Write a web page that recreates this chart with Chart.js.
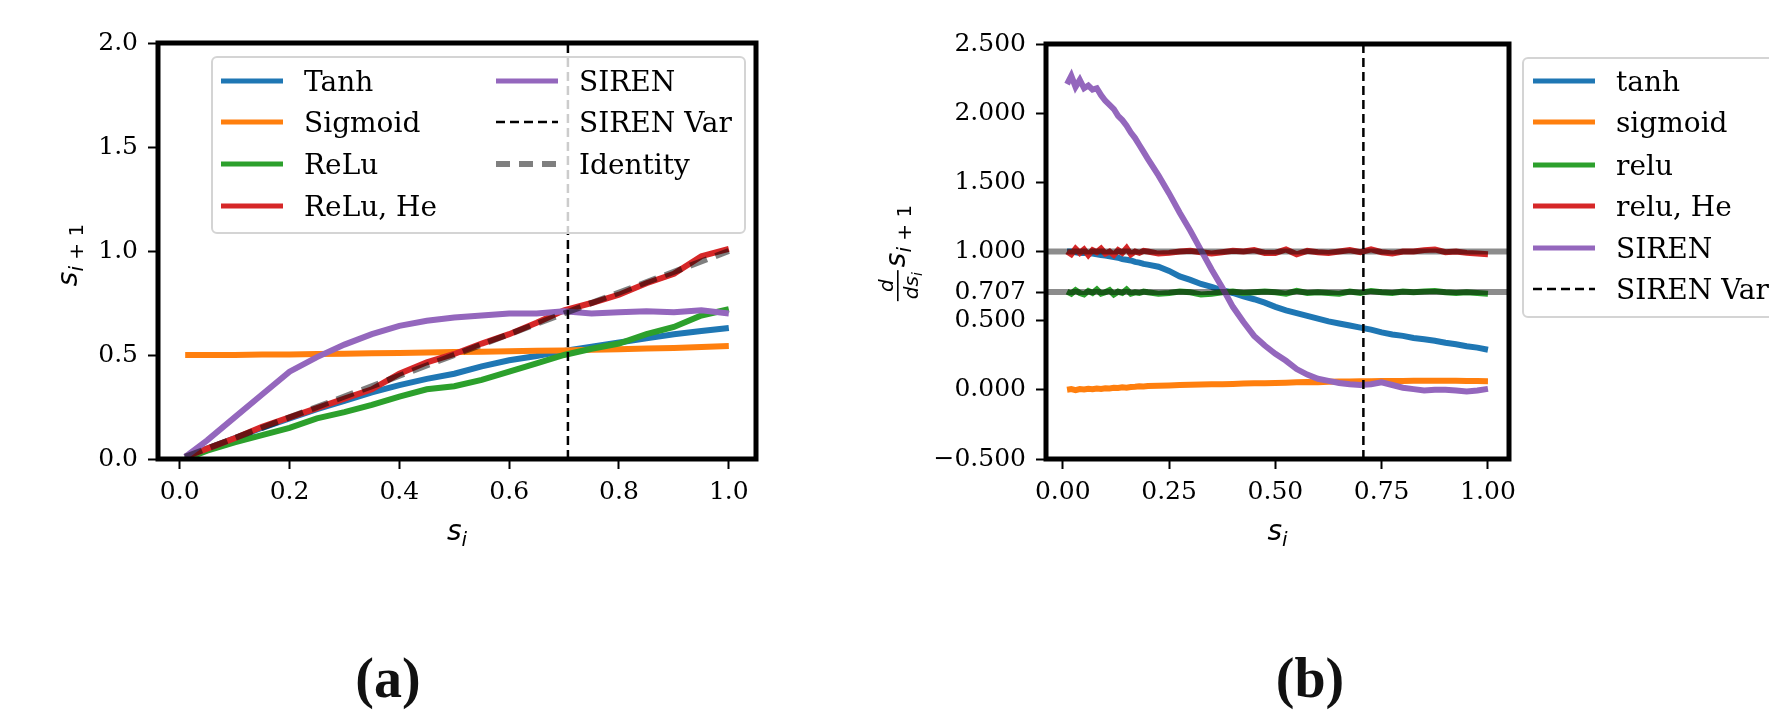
<!DOCTYPE html>
<html>
<head>
<meta charset="utf-8">
<script src="https://cdn.jsdelivr.net/npm/chart.js@4.4.1/dist/chart.umd.min.js"></script>
<style>
  html, body { margin: 0; padding: 0; background: #fff; width: 1769px; height: 728px; overflow: hidden; }
  #wrapA { position: absolute; left: 0; top: 0; }
  #wrapB { position: absolute; left: 830px; top: 0; }
  .cap { position: absolute; top: 650px; width: 200px; text-align: center;
         font: bold 56px "Liberation Serif", serif; line-height: 56px; color: #111; }
</style>
</head>
<body>
<div id="wrapA"><canvas id="chartA" width="830" height="600"></canvas></div>
<div id="wrapB"><canvas id="chartB" width="939" height="600"></canvas></div>
<div class="cap" style="left:288px">(a)</div>
<div class="cap" style="left:1210px">(b)</div>

<script>
// ---- (a) s_{i+1} against s_i ----
var xA = [0.01, 0.05, 0.10, 0.15, 0.20, 0.25, 0.30, 0.35, 0.40, 0.45, 0.50,
          0.55, 0.60, 0.65, 0.70, 0.75, 0.80, 0.85, 0.90, 0.95, 1.00];
var tanhA    = [0.01, 0.05, 0.10, 0.15, 0.195, 0.24, 0.28, 0.32, 0.355, 0.385, 0.41,
                0.445, 0.475, 0.495, 0.52, 0.54, 0.56, 0.58, 0.60, 0.615, 0.63];
var sigmoidA = [0.50, 0.50, 0.50, 0.502, 0.503, 0.505, 0.506, 0.508, 0.51, 0.512, 0.514,
                0.516, 0.518, 0.52, 0.522, 0.525, 0.528, 0.531, 0.534, 0.538, 0.543];
var reluA    = [0.0, 0.04, 0.08, 0.115, 0.15, 0.195, 0.225, 0.26, 0.30, 0.335, 0.35,
                0.38, 0.42, 0.46, 0.50, 0.53, 0.555, 0.60, 0.635, 0.69, 0.72];
var reluHeA  = [0.01, 0.05, 0.10, 0.155, 0.20, 0.245, 0.29, 0.335, 0.41, 0.465, 0.505,
                0.555, 0.60, 0.655, 0.715, 0.75, 0.79, 0.845, 0.89, 0.975, 1.01];
var sirenA   = [0.01, 0.09, 0.20, 0.31, 0.42, 0.49, 0.55, 0.60, 0.64, 0.665, 0.68,
                0.69, 0.70, 0.70, 0.71, 0.70, 0.705, 0.71, 0.705, 0.715, 0.70];
var identityX = [0.01, 1.0];
var identityY = [0.01, 1.0];
var sirenVar = 0.707;
var xTicksA = [0, 0.2, 0.4, 0.6, 0.8, 1.0];
var yTicksA = [0, 0.5, 1.0, 1.5, 2.0];

// ---- (b) d s_{i+1} / d s_i against s_i ----
var xB = [0.01, 0.02, 0.03, 0.04, 0.05, 0.06, 0.07, 0.08, 0.09, 0.10,
          0.11, 0.12, 0.13, 0.14, 0.15, 0.16, 0.17, 0.18, 0.19, 0.20,
          0.225, 0.25, 0.275, 0.3, 0.325, 0.35, 0.375, 0.4, 0.425, 0.45, 0.475, 0.5,
          0.525, 0.55, 0.575, 0.6, 0.625, 0.65, 0.675, 0.7, 0.725, 0.75,
          0.775, 0.8, 0.825, 0.85, 0.875, 0.9, 0.925, 0.95, 0.975, 1.0];
var tanhB    = [1.0, 1.0, 0.995, 0.99, 0.99, 0.985, 0.985, 0.98, 0.975, 0.97,
                0.965, 0.96, 0.955, 0.945, 0.94, 0.935, 0.925, 0.92, 0.91, 0.905,
                0.89, 0.86, 0.82, 0.795, 0.765, 0.745, 0.72, 0.70, 0.675, 0.655, 0.63, 0.60,
                0.575, 0.555, 0.535, 0.515, 0.495, 0.48, 0.465, 0.45, 0.435, 0.415,
                0.40, 0.39, 0.375, 0.365, 0.355, 0.34, 0.33, 0.315, 0.305, 0.29];
var sigmoidB = [0.0, 0.005, -0.003, 0.006, 0.002, 0.008, 0.004, 0.01, 0.007, 0.012,
                0.01, 0.015, 0.013, 0.018, 0.016, 0.02, 0.022, 0.025, 0.024, 0.028,
                0.03, 0.032, 0.035, 0.036, 0.038, 0.04, 0.041, 0.043, 0.045, 0.047, 0.048, 0.05,
                0.052, 0.055, 0.056, 0.055, 0.058, 0.06, 0.061, 0.062, 0.062, 0.063,
                0.064, 0.064, 0.065, 0.065, 0.065, 0.065, 0.066, 0.064, 0.063, 0.062];
var reluB    = [0.71, 0.695, 0.72, 0.70, 0.69, 0.715, 0.70, 0.725, 0.695, 0.705,
                0.72, 0.69, 0.71, 0.70, 0.725, 0.695, 0.705, 0.70, 0.71, 0.705,
                0.695, 0.70, 0.71, 0.705, 0.69, 0.695, 0.705, 0.71, 0.70, 0.705, 0.71, 0.705,
                0.695, 0.715, 0.70, 0.705, 0.70, 0.695, 0.71, 0.70, 0.715, 0.705,
                0.70, 0.71, 0.705, 0.71, 0.715, 0.705, 0.70, 0.705, 0.70, 0.695];
var reluHeB  = [1.0, 0.98, 1.02, 0.99, 1.015, 0.975, 1.01, 0.995, 1.02, 0.985,
                1.0, 0.975, 1.01, 0.99, 1.025, 0.98, 1.0, 0.99, 1.005, 1.0,
                0.985, 0.99, 1.0, 1.005, 0.995, 0.985, 0.995, 1.005, 1.0, 1.01, 0.99, 0.99,
                1.015, 0.98, 1.005, 0.995, 0.99, 1.0, 1.01, 0.995, 1.015, 0.995,
                0.985, 1.0, 1.0, 1.01, 1.015, 0.995, 1.0, 0.99, 0.985, 0.98];
var sirenB   = [2.21, 2.27, 2.19, 2.24, 2.18, 2.2, 2.17, 2.18, 2.13, 2.09,
                2.06, 2.03, 1.98, 1.95, 1.91, 1.86, 1.82, 1.77, 1.72, 1.67,
                1.55, 1.42, 1.28, 1.15, 1.01, 0.87, 0.74, 0.6, 0.49, 0.39, 0.32, 0.26,
                0.21, 0.15, 0.11, 0.08, 0.065, 0.05, 0.04, 0.035, 0.04, 0.055,
                0.035, 0.015, 0.005, -0.005, 0.0, 0.0, -0.005, -0.012, -0.005, 0.007];
var refLevelsB = [1.0, 0.707];
var xTicksB = [0, 0.25, 0.5, 0.75, 1.0];
var yTicksB = [-0.5, 0, 0.5, 0.707, 1.0, 1.5, 2.0, 2.5];

var XMIN = -0.0395, XMAX = 1.0495;

function pts(xs, ys) {
  return xs.map(function (x, i) { return { x: x, y: ys[i] }; });
}

function line(label, data, color, extra) {
  var d = { label: label, data: data, borderColor: color, borderWidth: 6,
            pointRadius: 0, tension: 0, fill: false, legendWidth: 5 };
  for (var k in extra) d[k] = extra[k];
  return d;
}

// draw a run of math pieces along the current baseline, returns width
function mathRun(ctx, parts, x, y, doDraw) {
  var w = 0;
  parts.forEach(function (p) {
    ctx.font = (p.it ? "italic " : "") + p.size + 'px "DejaVu Sans"';
    if (doDraw) ctx.fillText(p.t, x + w, y + (p.dy || 0));
    w += ctx.measureText(p.t).width;
  });
  return w;
}

var sSub = function (sub) {
  var parts = [{ t: "s", size: 28, it: true }];
  return parts.concat(sub);
};
var subI = [{ t: "i", size: 20, it: true, dy: 6 }];
var subI1 = [{ t: "i", size: 20, it: true, dy: 6 }, { t: " + 1", size: 20, dy: 6 }];

var decor = {
  id: "decor",
  afterDatasetsDraw: function (chart) {
    var a = chart.chartArea, ctx = chart.ctx;
    ctx.save();
    ctx.strokeStyle = "#000";
    ctx.lineWidth = 5;
    ctx.strokeRect(a.left, a.top, a.right - a.left, a.bottom - a.top);
    ctx.restore();
  },
  afterDraw: function (chart, args, o) {
    var ctx = chart.ctx, a = chart.chartArea;
    ctx.save();
    ctx.fillStyle = "#000";
    ctx.textBaseline = "alphabetic";

    // legend
    var L = o.legend;
    ctx.beginPath();
    ctx.roundRect(L.box[0], L.box[1], L.box[2] - L.box[0], L.box[3] - L.box[1], 5);
    ctx.fillStyle = "rgba(255,255,255,0.8)";
    ctx.fill();
    ctx.strokeStyle = "#d4d4d4";
    ctx.lineWidth = 2;
    ctx.stroke();
    var items = chart.data.datasets.filter(function (d) { return d.inLegend !== false; });
    items.forEach(function (d, i) {
      var col = Math.floor(i / L.perCol), row = i % L.perCol;
      var x = L.colX[col], y = L.rowY[row];
      ctx.strokeStyle = d.legendColor || d.borderColor;
      ctx.lineWidth = d.legendWidth || d.borderWidth;
      ctx.setLineDash(d.legendDash || d.borderDash || []);
      ctx.beginPath();
      ctx.moveTo(x, y);
      ctx.lineTo(x + 62, y);
      ctx.stroke();
      ctx.setLineDash([]);
      ctx.fillStyle = "#000";
      ctx.font = '28px "DejaVu Serif"';
      ctx.fillText(d.label, x + 83, y + 10);
    });

    // x title s_i
    var xt = sSub(subI);
    var cx = (a.left + a.right) / 2;
    var w = mathRun(ctx, xt, 0, 0, false);
    mathRun(ctx, xt, cx - w / 2, 540, true);

    // y title
    ctx.translate(o.yTitleX, o.yTitleY);
    ctx.rotate(-Math.PI / 2);
    var yt = sSub(subI1);
    var wy = mathRun(ctx, yt, 0, 0, false);
    if (o.fraction) {
      var num = [{ t: "d", size: 20, it: true }];
      var den = [{ t: "ds", size: 20, it: true }, { t: "i", size: 14, it: true, dy: 4 }];
      var wn = mathRun(ctx, num, 0, 0, false);
      var wd = mathRun(ctx, den, 0, 0, false);
      var fw = Math.max(wn, wd) + 4;
      var x0 = -(fw + wy + 3) / 2;
      mathRun(ctx, num, x0 + (fw - wn) / 2, -12, true);
      mathRun(ctx, den, x0 + (fw - wd) / 2, 13, true);
      ctx.fillRect(x0, -8, fw, 1.6);
      mathRun(ctx, yt, x0 + fw + 3, 0, true);
    } else {
      mathRun(ctx, yt, -wy / 2, 0, true);
    }
    ctx.restore();
  }
};

function xAxis(ticks, digits, height) {
  return {
    type: "linear", min: XMIN, max: XMAX,
    afterBuildTicks: function (s) { s.ticks = ticks.map(function (v) { return { value: v }; }); },
    afterFit: function (s) { s.height = height; },
    grid: { drawOnChartArea: false, drawTicks: true, tickLength: 10, tickWidth: 2, tickColor: "#000" },
    border: { display: false },
    ticks: { autoSkip: false, maxRotation: 0, padding: 8, color: "#000",
             font: { family: "DejaVu Serif", size: 25 },
             callback: function (v) { return v.toFixed(digits); } }
  };
}
function yAxis(min, max, ticks, digits, width) {
  return {
    type: "linear", min: min, max: max,
    afterBuildTicks: function (s) { s.ticks = ticks.map(function (v) { return { value: v }; }); },
    afterFit: function (s) { s.width = width; },
    grid: { drawOnChartArea: false, drawTicks: true, tickLength: 10, tickWidth: 2, tickColor: "#000" },
    border: { display: false },
    ticks: { autoSkip: false, padding: 10, color: "#000",
             font: { family: "DejaVu Serif", size: 25 },
             callback: function (v) { return (v < 0 ? "\u2212" : "") + Math.abs(v).toFixed(digits); } }
  };
}

var C = { blue: "#1f77b4", orange: "#ff7f0e", green: "#2ca02c", red: "#d62728", purple: "#9467bd" };

// chart (a)
var dsA = [
  line("Tanh", pts(xA, tanhA), C.blue, { order: 10 }),
  line("Sigmoid", pts(xA, sigmoidA), C.orange, { order: 9 }),
  line("ReLu", pts(xA, reluA), C.green, { order: 8 }),
  line("ReLu, He", pts(xA, reluHeA), C.red, { order: 7 }),
  line("SIREN", pts(xA, sirenA), C.purple, { order: 6 }),
  line("SIREN Var", pts([sirenVar, sirenVar], [0, 2]), "#000",
       { borderWidth: 2.5, legendWidth: 2.5, borderDash: [9, 5], order: 4 }),
  line("Identity", pts(identityX, identityY), "rgba(0,0,0,0.5)",
       { borderWidth: 6, legendWidth: 6, borderDash: [18, 9], legendDash: [14, 9], order: 5 })
];

new Chart(document.getElementById("chartA"), {
  type: "line",
  data: { datasets: dsA },
  options: {
    responsive: false, animation: false,
    layout: { padding: { left: 0, top: 43, right: 830 - 756, bottom: 0 } },
    plugins: {
      legend: { display: false }, tooltip: { enabled: false },
      decor: {
        legend: { box: [212, 57, 745, 233], perCol: 4, colX: [221, 496], rowY: [81, 122, 164, 206] },
        yTitleX: 77, yTitleY: 255, fraction: false
      }
    },
    scales: {
      x: xAxis(xTicksA, 1, 600 - 459),
      y: yAxis(0, 2, yTicksA, 1, 158)
    }
  },
  plugins: [decor]
});

// chart (b)
var dsB = [
  line("tanh", pts(xB, tanhB), C.blue, { order: 10 }),
  line("sigmoid", pts(xB, sigmoidB), C.orange, { order: 9 }),
  line("relu", pts(xB, reluB), C.green, { order: 8 }),
  line("relu, He", pts(xB, reluHeB), C.red, { order: 7 }),
  line("SIREN", pts(xB, sirenB), C.purple, { order: 6 }),
  line("SIREN Var", pts([sirenVar, sirenVar], [-0.5, 2.5]), "#000",
       { borderWidth: 2.5, legendWidth: 2.5, borderDash: [9, 5], order: 3 })
];
refLevelsB.forEach(function (v) {
  dsB.push(line("", pts([XMIN, XMAX], [v, v]), "rgba(0,0,0,0.45)",
                { borderWidth: 6, inLegend: false, order: 4 }));
});

new Chart(document.getElementById("chartB"), {
  type: "line",
  data: { datasets: dsB },
  options: {
    responsive: false, animation: false,
    layout: { padding: { left: 0, top: 44, right: 939 - 679, bottom: 0 } },
    plugins: {
      legend: { display: false }, tooltip: { enabled: false },
      decor: {
        legend: { box: [693, 58, 1000, 317], perCol: 6, colX: [703], rowY: [81, 122, 165, 206, 248, 289] },
        yTitleX: 75, yTitleY: 253, fraction: true
      }
    },
    scales: {
      x: xAxis(xTicksB, 2, 600 - 459),
      y: yAxis(-0.5, 2.5, yTicksB, 3, 216)
    }
  },
  plugins: [decor]
});
</script>
</body>
</html>
